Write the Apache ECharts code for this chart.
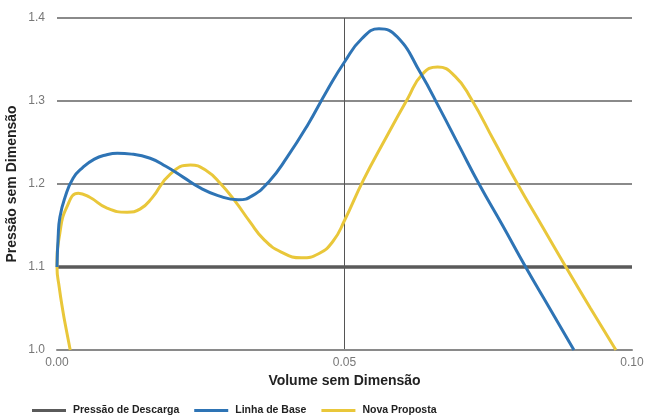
<!DOCTYPE html>
<html>
<head>
<meta charset="utf-8">
<script src="https://cdn.jsdelivr.net/npm/echarts@6/dist/echarts.min.js"></script>
<style>
  html, body { margin: 0; padding: 0; background: #fff; }
  #main { width: 653px; height: 416px; }
</style>
</head>
<body>
<div id="main"></div>
<script>
// nomes das séries
var seriesNames = ['Pressão de Descarga', 'Linha de Base', 'Nova Proposta'];

// [volume, pressão]
var descarga = [[0.0, 1.1], [0.1, 1.1]];

var linhaBase = [
  [0.0, 1.10], [0.0002, 1.136], [0.0005, 1.16], [0.0014, 1.184], [0.0028, 1.207],
  [0.0045, 1.22], [0.0065, 1.23], [0.0085, 1.235], [0.0105, 1.237], [0.013, 1.236],
  [0.0162, 1.231], [0.019, 1.221], [0.022, 1.208], [0.025, 1.195], [0.028, 1.186],
  [0.0315, 1.181], [0.034, 1.186], [0.037, 1.204], [0.040, 1.232], [0.0435, 1.27],
  [0.047, 1.313], [0.050, 1.347], [0.053, 1.375], [0.056, 1.387], [0.0592, 1.377],
  [0.0632, 1.334], [0.0667, 1.289], [0.070, 1.245], [0.0734, 1.2], [0.0775, 1.15],
  [0.0815, 1.1], [0.0857, 1.05], [0.0899, 1.0]
];

var novaProposta = [
  [0.0023, 1.0], [0.0016, 1.025], [0.001, 1.048], [0.0004, 1.075], [0.0, 1.1],
  [0.0005, 1.141], [0.0017, 1.172], [0.0037, 1.189], [0.0057, 1.184], [0.0087, 1.171],
  [0.0122, 1.166], [0.0145, 1.17], [0.0165, 1.183], [0.0197, 1.212], [0.0232, 1.223],
  [0.026, 1.216], [0.0285, 1.2], [0.031, 1.179], [0.0335, 1.155], [0.036, 1.133],
  [0.039, 1.118], [0.0425, 1.111], [0.0455, 1.116], [0.048, 1.131], [0.050, 1.156],
  [0.0533, 1.205], [0.057, 1.253], [0.061, 1.303], [0.0635, 1.332], [0.0662, 1.341],
  [0.0692, 1.33], [0.072, 1.303], [0.076, 1.252], [0.0801, 1.2], [0.0843, 1.15],
  [0.0885, 1.1], [0.0928, 1.05], [0.0972, 1.0]
];

var chart = echarts.init(document.getElementById('main'));

var font = 'Liberation Sans';

var option = {
  animation: false,
  grid: { left: 57, right: 21, top: 18, bottom: 66, outerBoundsMode: 'none' },
  legend: {
    left: 27,
    top: 400,
    icon: 'rect',
    itemWidth: 34,
    itemHeight: 3,
    itemGap: 15,
    textStyle: { fontSize: 10.5, fontWeight: 'bold', color: '#222', fontFamily: font, padding: [0, 0, 0, 2] },
    data: seriesNames
  },
  xAxis: {
    type: 'value',
    min: 0,
    max: 0.1,
    interval: 0.05,
    name: 'Volume sem Dimensão',
    nameLocation: 'middle',
    nameGap: 24,
    nameTextStyle: { fontSize: 14, fontWeight: 'bold', color: '#222', fontFamily: font },
    axisLine: { show: true, lineStyle: { color: '#8a8a8a', width: 2 } },
    axisTick: { show: false },
    axisLabel: {
      color: '#777', fontSize: 12, margin: 7, fontFamily: font,
      formatter: function (v) { return v.toFixed(2); }
    },
    splitLine: { show: true, showMinLine: false, showMaxLine: false, lineStyle: { color: '#555', width: 1 } }
  },
  yAxis: {
    type: 'value',
    min: 1.0,
    max: 1.4,
    interval: 0.1,
    name: 'Pressão sem Dimensão',
    nameLocation: 'middle',
    nameGap: 38,
    nameMoveOverlap: false,
    nameTextStyle: { fontSize: 14, fontWeight: 'bold', color: '#222', fontFamily: font },
    axisLine: { show: false },
    axisTick: { show: false },
    axisLabel: {
      color: '#777', fontSize: 12, margin: 12, fontFamily: font,
      formatter: function (v) { return v.toFixed(1); }
    },
    splitLine: { show: true, lineStyle: { color: '#8a8a8a', width: 2 } }
  },
  series: [
    {
      name: seriesNames[0], type: 'line', data: descarga, symbol: 'none',
      itemStyle: { color: '#5a5a5a' }, lineStyle: { color: '#5a5a5a', width: 3.5 }, z: 1
    },
    {
      name: seriesNames[1], type: 'line', data: linhaBase, symbol: 'none', smooth: 0.5,
      itemStyle: { color: '#2e74b5' }, lineStyle: { color: '#2e74b5', width: 3 }, z: 3
    },
    {
      name: seriesNames[2], type: 'line', data: novaProposta, symbol: 'none', smooth: 0.5,
      itemStyle: { color: '#e9c73a' }, lineStyle: { color: '#e9c73a', width: 3 }, z: 2
    }
  ]
};

chart.setOption(option);
</script>
</body>
</html>
